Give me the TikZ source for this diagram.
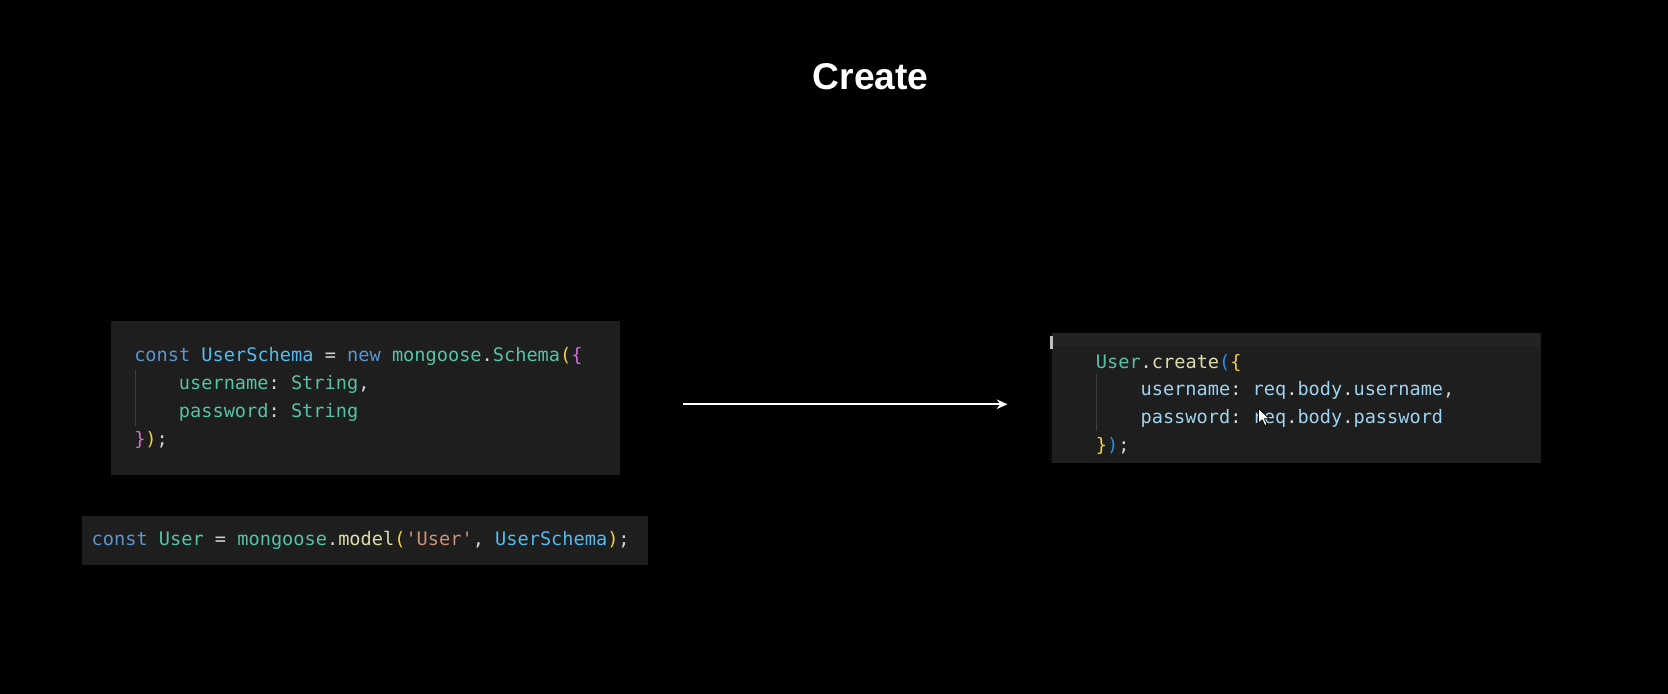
\documentclass[tikz,border=0pt]{standalone}
\usepackage{fontspec}
\setmainfont{Liberation Sans}
\newfontfamily\codefont{DejaVu Sans Mono}[Ligatures=TeXOff]
\usetikzlibrary{arrows.meta}
\definecolor{bg}{HTML}{000000}
\definecolor{boxbg}{HTML}{1E1E1E}
\definecolor{bandbg}{HTML}{232324}
\definecolor{guide}{HTML}{404040}
\definecolor{ckw}{HTML}{5A95D0}
\definecolor{ccv}{HTML}{56B8EC}
\definecolor{ccl}{HTML}{55C2A6}
\definecolor{cfn}{HTML}{DCDCAA}
\definecolor{cpr}{HTML}{9CD3F0}
\definecolor{cst}{HTML}{CE9178}
\definecolor{cpu}{HTML}{D4D4D4}
\definecolor{cgo}{HTML}{F5CF3A}
\definecolor{corc}{HTML}{C874CC}
\definecolor{cbb}{HTML}{2A8FE0}
\newcommand\Ckw[1]{\textcolor{ckw}{#1}}
\newcommand\Ccv[1]{\textcolor{ccv}{#1}}
\newcommand\Ccl[1]{\textcolor{ccl}{#1}}
\newcommand\Cfn[1]{\textcolor{cfn}{#1}}
\newcommand\Cpr[1]{\textcolor{cpr}{#1}}
\newcommand\Cst[1]{\textcolor{cst}{#1}}
\newcommand\Cpu[1]{\textcolor{cpu}{#1}}
\newcommand\Cgo[1]{\textcolor{cgo}{#1}}
\newcommand\Corc[1]{\textcolor{corc}{#1}}
\newcommand\Cbb[1]{\textcolor{cbb}{#1}}
\tikzset{
  codebox/.style={draw=none, fill=boxbg, rectangle, inner sep=0pt, anchor=north west},
  codeline/.style={anchor=base west, inner sep=0pt, font=\codefont\fontsize{17.5}{20}\selectfont\frenchspacing},
  guideline/.style={draw=guide, line width=1pt},
  flow/.style={draw=white, line width=2.2pt, -{Stealth[length=10pt,width=9pt]}},
}
\begin{document}
\begin{tikzpicture}[x=1pt,y={(0pt,-1pt)}]
\fill[bg] (0,0) rectangle (1568,652);
\useasboundingbox (0,0) rectangle (1568,652);

% title
\node[anchor=base, inner sep=0pt, text=white, font=\bfseries\fontsize{35}{40}\selectfont] (title) at (818.5,84.6) {Create};

% schema box
\node[codebox, minimum width=479pt, minimum height=144pt] (schema) at (104,302) {};
\draw[guideline] (127,348) -- (127,400);
\node[codeline] (s1) at (126,339.5) {\Ckw{const} \Ccv{UserSchema} \Cpu{=} \Ckw{new} \Ccl{mongoose}\Cpu{.}\Ccl{Schema}\Cgo{(}\Corc{\{}};
\node[codeline] (s2) at (168,366) {\Ccl{username}\Cpu{:} \Ccl{String}\Cpu{,}};
\node[codeline] (s3) at (168,392.5) {\Ccl{password}\Cpu{:} \Ccl{String}};
\node[codeline] (s4) at (126,419) {\Corc{\}}\Cgo{)}\Cpu{;}};

% model box
\node[codebox, minimum width=532pt, minimum height=46pt] (model) at (77,485) {};
\node[codeline] (m1) at (86,512.5) {\Ckw{const} \Ccl{User} \Cpu{=} \Ccl{mongoose}\Cpu{.}\Cfn{model}\Cgo{(}\Cst{'User'}\Cpu{,} \Ccv{UserSchema}\Cgo{)}\Cpu{;}};

% create box
\node[codebox, minimum width=462pt, minimum height=122pt] (create) at (986,313) {};
\fill[bandbg] (988,313) rectangle (1448,325);
\fill[guide!130] (986,313) rectangle (988.5,435);
\fill[white!75!black] (987.5,316) rectangle (989.5,328);
\draw[guideline] (1031,352) -- (1031,405);
\node[codeline] (c1) at (1030,346) {\Ccl{User}\Cpu{.}\Cfn{create}\Cbb{(}\Cgo{\{}};
\node[codeline] (c2) at (1072,372) {\Cpr{username}\Cpu{:} \Cpr{req}\Cpu{.}\Cpr{body}\Cpu{.}\Cpr{username}\Cpu{,}};
\node[codeline] (c3) at (1072,398.5) {\Cpr{password}\Cpu{:} \Cpr{req}\Cpu{.}\Cpr{body}\Cpu{.}\Cpr{password}};
\node[codeline] (c4) at (1030,424.5) {\Cgo{\}}\Cbb{)}\Cpu{;}};

% mouse pointer
\filldraw[fill=white, draw=black, line width=0.6pt, line join=round]
  (1183,384) -- (1183,398) -- (1186.5,394.5) -- (1189,400) -- (1191,399) -- (1188.5,393.5) -- (1193,393.5) -- cycle;

% arrow
\coordinate (a1) at (642,380);
\coordinate (a2) at (947,380);
\draw[flow] (a1) -- (a2);
\end{tikzpicture}
\end{document}
